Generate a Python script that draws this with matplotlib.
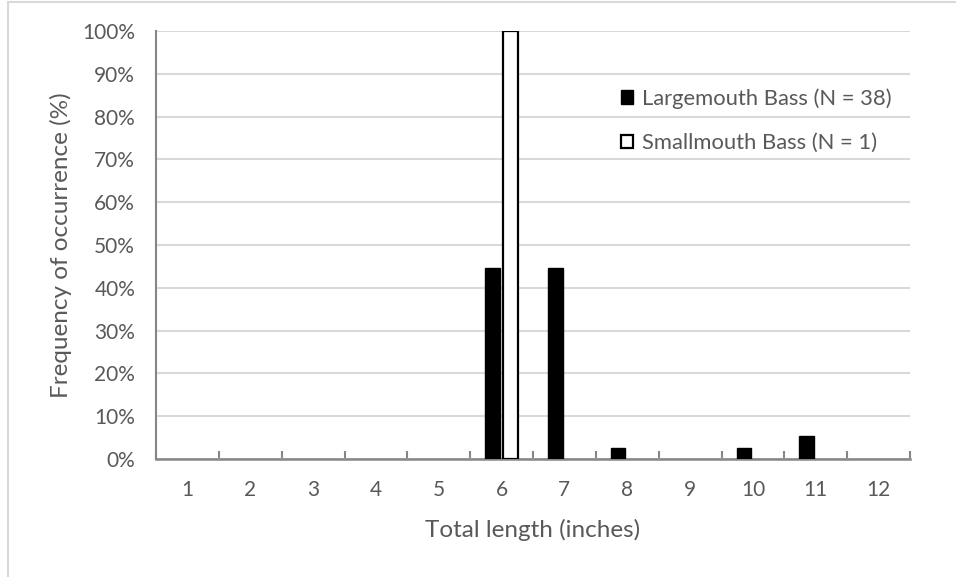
import numpy as np
import matplotlib.pyplot as plt
from matplotlib.lines import Line2D
from matplotlib.patches import Patch
from matplotlib.ticker import PercentFormatter

plt.rcParams['font.family'] = ['Lato', 'DejaVu Sans']

# Data (fraction of fish in each 1-inch length group)
lengths = [1, 2, 3, 4, 5, 6, 7, 8, 9, 10, 11, 12]
largemouth = [0, 0, 0, 0, 0, 17/38, 17/38, 1/38, 0, 1/38, 2/38, 0]
smallmouth = [0, 0, 0, 0, 0, 1.0, 0, 0, 0, 0, 0, 0]
label_lmb = "Largemouth Bass (N = 38)"
label_smb = "Smallmouth Bass (N = 1)"

TXT = '#595959'
GRID = '#d9d9d9'
AX = '#868686'

fig = plt.figure(figsize=(9.56, 5.77), dpi=100)
ax = fig.add_axes([156/956, 118/577, 754/956, 428/577])

x = np.array(lengths)
bw = 0.23
off = 0.145
lm = np.array(largemouth)
sm = np.array(smallmouth)
ax.bar(x[lm > 0] - off, lm[lm > 0], bw, color='black', edgecolor='black', linewidth=1, zorder=3)
ax.bar(x[sm > 0] + off, sm[sm > 0], bw, color='white', edgecolor='black', linewidth=1.6, zorder=3)

ax.set_xlim(0.5, 12.5)
ax.set_ylim(0, 1.0)
ax.set_yticks(np.arange(0, 1.01, 0.1))
ax.yaxis.set_major_formatter(PercentFormatter(1.0, decimals=0))
ax.set_xticks(x)
ax.set_xticklabels([str(v) for v in lengths])
ax.set_xticks(np.arange(0.5, 12.6, 1), minor=True)

ax.grid(axis='y', color=GRID, linewidth=1.5, zorder=0)
ax.set_axisbelow(True)
for s in ['top', 'right']:
    ax.spines[s].set_visible(False)
ax.spines['left'].set_color(AX)
ax.spines['bottom'].set_color(AX)
ax.spines['left'].set_linewidth(1.5)
ax.spines['bottom'].set_linewidth(1.8)

ax.tick_params(axis='x', which='major', length=0, pad=15, labelsize=15, labelcolor=TXT)
ax.tick_params(axis='x', which='minor', direction='in', length=6, width=1.5, color=AX)
ax.tick_params(axis='y', length=0, pad=15, labelsize=15, labelcolor=TXT)

ax.set_xlabel("Total length (inches)", fontsize=17.5, color=TXT, labelpad=14)
ax.set_ylabel("Frequency of occurrence (%)", fontsize=17.5, color=TXT, labelpad=7)

handles = [Patch(facecolor='black', edgecolor='black', label=label_lmb),
           Patch(facecolor='white', edgecolor='black', linewidth=1.6, label=label_smb)]
leg = ax.legend(handles=handles, loc='upper left', bbox_to_anchor=(0.602, 0.892),
                frameon=False, fontsize=15.8, handlelength=0.55, handleheight=0.55,
                handletextpad=0.4, labelspacing=1.1, borderpad=0, labelcolor=TXT)

# chart area border (only top and left visible in reference)
fig.add_artist(Line2D([8/956, 1], [1 - 2/577, 1 - 2/577], color=GRID, linewidth=1.5))
fig.add_artist(Line2D([8/956, 8/956], [0, 1 - 2/577], color=GRID, linewidth=1.5))

fig.savefig('out.png', dpi=100)
